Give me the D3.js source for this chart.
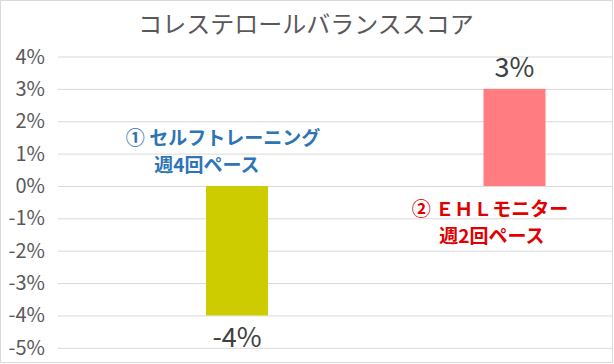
<!DOCTYPE html>
<html>
<head>
<meta charset="utf-8">
<script src="https://cdn.jsdelivr.net/npm/d3@7"></script>
<style>
  body { margin: 0; background: #fff; }
  text { font-family: "Noto Sans CJK JP", sans-serif; }
</style>
</head>
<body>
<div id="chart"></div>
<script>
var width = 614, height = 364;

var categories = ["① セルフトレーニング 週4回ペース", "② ＥＨＬモニター 週2回ペース"];
var values = [-0.04, 0.03];
var valueLabels = ["-4%", "3%"];
var tickValues = [0.04, 0.03, 0.02, 0.01, 0, -0.01, -0.02, -0.03, -0.04, -0.05];
var tickLabels = ["4%", "3%", "2%", "1%", "0%", "-1%", "-2%", "-3%", "-4%", "-5%"];
var noteLines = [["① セルフトレーニング", "週4回ペース"], ["② ＥＨＬモニター", "週2回ペース"]];
var colors = ["#cccc00", "#ff7c80"];
var noteColors = ["#2e75b6", "#e00000"];

var svg = d3.select("#chart").append("svg")
    .attr("width", width)
    .attr("height", height);

// chart frame
svg.append("rect")
    .attr("x", 0.5).attr("y", 0.5)
    .attr("width", 612).attr("height", 362)
    .attr("fill", "#fff")
    .attr("stroke", "#d9d9d9");

var y = d3.scaleLinear().domain([-0.05, 0.04]).range([347.8, 56.5]);
var x = d3.scalePoint().domain(categories).range([237, 514.5]);
var barWidth = 62;

// gridlines
svg.append("g")
    .selectAll("line")
    .data(tickValues)
    .enter().append("line")
    .attr("x1", 58).attr("x2", 612)
    .attr("y1", function(d){ return y(d) + 0.5; })
    .attr("y2", function(d){ return y(d) + 0.5; })
    .attr("stroke", "#d9d9d9")
    .attr("stroke-width", 1);

// y axis labels
svg.append("g")
    .selectAll("text")
    .data(tickValues)
    .enter().append("text")
    .attr("x", 45)
    .attr("y", function(d){ return y(d); })
    .attr("dy", "0.35em")
    .attr("text-anchor", "end")
    .attr("font-family", "Arial, 'Liberation Sans', sans-serif")
    .attr("font-size", 20)
    .attr("fill", "#595959")
    .text(function(d, i){ return tickLabels[i]; });

// bars
svg.append("g")
    .selectAll("rect")
    .data(values)
    .enter().append("rect")
    .attr("x", function(d, i){ return x(categories[i]) - barWidth / 2; })
    .attr("y", function(d){ return y(Math.max(0, d)); })
    .attr("width", barWidth)
    .attr("height", function(d){ return Math.abs(y(d) - y(0)); })
    .attr("fill", function(d, i){ return colors[i]; });

// value labels
svg.append("g")
    .selectAll("text")
    .data(values)
    .enter().append("text")
    .attr("x", function(d, i){ return x(categories[i]); })
    .attr("y", function(d){ return d > 0 ? y(d) - 21 : y(d) + 22; })
    .attr("dy", "0.35em")
    .attr("text-anchor", "middle")
    .attr("font-family", "Arial, 'Liberation Sans', sans-serif")
    .attr("font-size", 27)
    .attr("fill", "#404040")
    .text(function(d, i){ return valueLabels[i]; });

// category notes
var notePos = [[[223, 138], [207, 165]], [[490, 209], [492, 236]]];
noteLines.forEach(function(lines, i){
    lines.forEach(function(t, j){
        svg.append("text")
            .attr("x", notePos[i][j][0])
            .attr("y", notePos[i][j][1])
            .attr("dy", "0.35em")
            .attr("text-anchor", "middle")
            .attr("font-size", 19)
            .attr("font-weight", "bold")
            .attr("fill", noteColors[i])
            .text(t);
    });
});

// title
svg.append("text")
    .attr("x", 306)
    .attr("y", 25)
    .attr("dy", "0.35em")
    .attr("text-anchor", "middle")
    .attr("font-size", 24)
    .attr("fill", "#595959")
    .text("コレステロールバランススコア");
</script>
</body>
</html>
